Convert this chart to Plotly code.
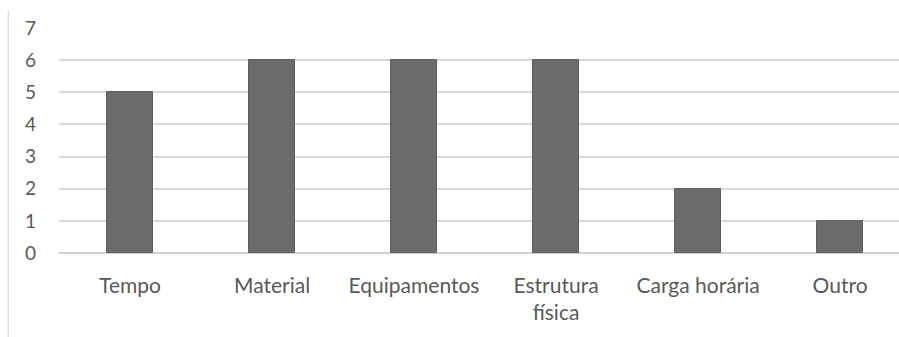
import plotly.graph_objects as go

categories = ["Tempo", "Material", "Equipamentos", "Estrutura<br>física", "Carga horária", "Outro"]
values = [5, 6, 6, 6, 2, 1]
y_ticks = [0, 1, 2, 3, 4, 5, 6, 7]

positions = list(range(len(categories)))

fig = go.Figure(
    go.Bar(
        x=positions,
        y=values,
        width=0.32,
        marker=dict(color="#6b6b6b", line=dict(color="#5e5e5e", width=1)),
        hoverinfo="skip",
    )
)

fig.update_layout(
    width=899,
    height=337,
    margin=dict(l=59, r=0, t=28, b=84),
    paper_bgcolor="white",
    plot_bgcolor="white",
    showlegend=False,
    font=dict(family="Lato, 'Open Sans', sans-serif", size=21, color="#595959"),
    bargap=0,
)

fig.update_xaxes(
    tickmode="array",
    tickvals=positions,
    ticktext=categories,
    range=[-0.5, 5.415],
    showgrid=False,
    zeroline=False,
    showline=False,
    ticks="",
    ticklabelstandoff=18,
    tickfont=dict(size=21, color="#595959"),
)

fig.update_yaxes(
    range=[0, 7],
    tickmode="array",
    tickvals=y_ticks,
    showgrid=True,
    gridcolor="#d9d9d9",
    gridwidth=1.6,
    zeroline=True,
    zerolinecolor="#d0d0d0",
    zerolinewidth=1.6,
    showline=False,
    ticks="",
    ticklabelstandoff=22,
    tickfont=dict(size=19, color="#595959"),
)

# thin frame line on the left side of the chart area
fig.add_shape(
    type="line",
    xref="paper", yref="paper",
    x0=-0.0605, x1=-0.0605,
    y0=-0.373, y1=1.08,
    line=dict(color="#d9d9d9", width=1.2),
)

fig.write_html("out.html")
